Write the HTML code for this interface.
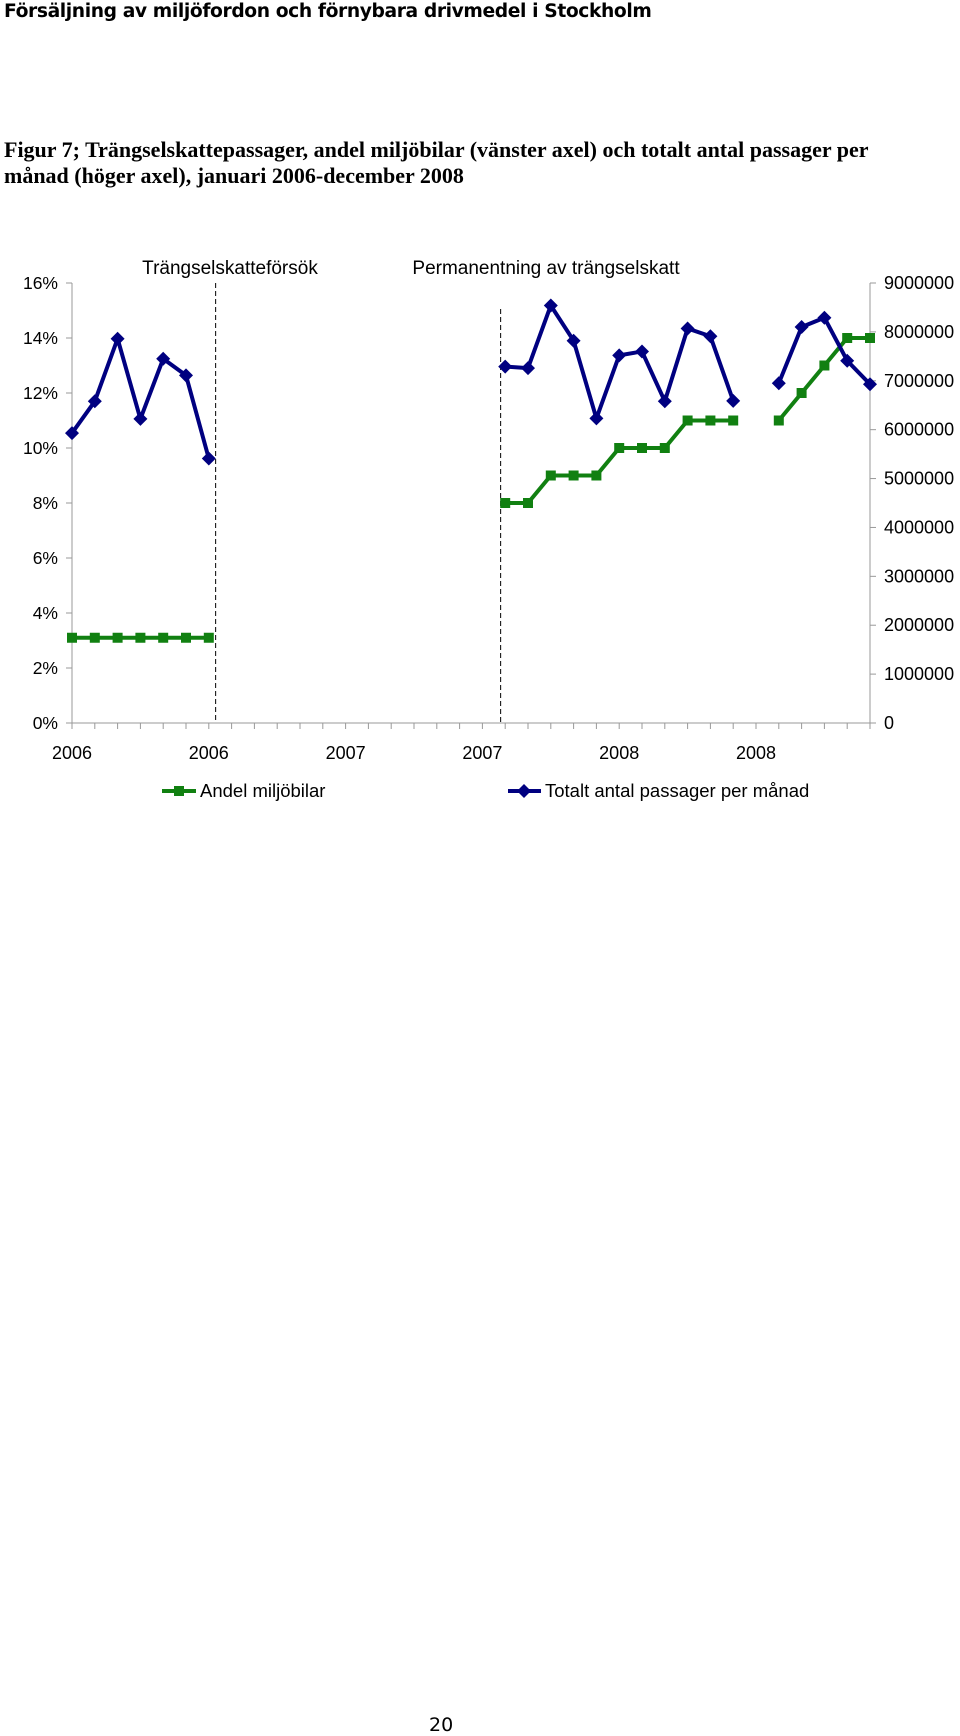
<!DOCTYPE html>
<html><head><meta charset="utf-8"><style>
body{margin:0;background:#fff;width:960px;height:1734px;position:relative;overflow:hidden}
.t{position:absolute;white-space:nowrap;color:#000}
</style></head><body>
<div class="t" style="left:4px;top:1px;font:bold 18.7px 'DejaVu Sans',sans-serif;letter-spacing:-0.4px">Försäljning av miljöfordon och förnybara drivmedel i Stockholm</div>
<div class="t" style="left:4px;top:137px;font:bold 22px/26px 'Liberation Serif',serif">Figur 7; Trängselskattepassager, andel miljöbilar (vänster axel) och totalt antal passager per<br>månad (höger axel), januari 2006-december 2008</div>
<svg id="chart" width="960" height="820" style="position:absolute;left:0;top:0" font-family="Liberation Sans, sans-serif"></svg>
<div class="t" style="left:429px;top:1714px;font:19px 'DejaVu Sans',sans-serif">20</div>
<script>
const months = Array.from({length:36},(_,i)=>i);
const xLabels = ['2006','2006','2007','2007','2008','2008'];
const leftTicks = ['0%','2%','4%','6%','8%','10%','12%','14%','16%'];
const rightTicks = ['0','1000000','2000000','3000000','4000000','5000000','6000000','7000000','8000000','9000000'];
// share of environmental cars (%), null = no data
const share = [3.1,3.1,3.1,3.1,3.1,3.1,3.1,null,null,null,null,null,null,null,null,null,null,null,null,8,8,9,9,9,10,10,10,11,11,11,null,11,12,13,14,14];
// total passages per month
const passages = [5930000,6580000,7860000,6220000,7450000,7110000,5410000,null,null,null,null,null,null,null,null,null,null,null,null,7290000,7260000,8540000,7820000,6230000,7520000,7600000,6580000,8070000,7910000,6590000,null,6950000,8100000,8290000,7410000,6930000];

const svg=document.getElementById('chart');const NS='http://www.w3.org/2000/svg';
const X0=72,X1=870,Y0=723,Y1=283;
const x=i=>X0+i*(X1-X0)/35;
const yL=v=>Y0-v/16*(Y0-Y1);
const yR=v=>Y0-v/9000000*(Y0-Y1);
function el(t,a){const e=document.createElementNS(NS,t);for(const k in a)e.setAttribute(k,a[k]);svg.appendChild(e);return e;}
let e;
e=el('line',{x1:X0,y1:Y1,x2:X0,y2:Y0,stroke:'#999'});


e=el('line',{x1:X1,y1:Y1,x2:X1,y2:Y0,stroke:'#999'});


e=el('line',{x1:X0,y1:Y0,x2:X1,y2:Y0,stroke:'#999'});


leftTicks.forEach((l,i)=>{const yy=yL(i*2);
 el('line',{x1:X0-6,y1:yy,x2:X0,y2:yy,stroke:'#999'});
 e=el('text',{x:58,y:yy+6,'text-anchor':'end','font-size':17.5});e.textContent=l;
 
 });
rightTicks.forEach((l,i)=>{const yy=yR(i*1000000);
 el('line',{x1:X1,y1:yy,x2:X1+6,y2:yy,stroke:'#999'});
 e=el('text',{x:884,y:yy+6,'font-size':18});e.textContent=l;
 
 });
for(let i=0;i<=36;i++){const xx=X0+i*(X1-X0)/35;if(xx>X1+1)break;el('line',{x1:xx,y1:Y0,x2:xx,y2:Y0+6,stroke:'#999'});}
xLabels.forEach((l,i)=>{e=el('text',{x:x(i*6),y:759,'text-anchor':'middle','font-size':18});e.textContent=l;
 
 });
e=el('line',{x1:x(6.3),y1:Y1,x2:x(6.3),y2:Y0,stroke:'#000','stroke-dasharray':'5,3'});


e=el('line',{x1:x(18.8),y1:309,x2:x(18.8),y2:Y0,stroke:'#000','stroke-dasharray':'5,3'});


e=el('text',{x:230,y:274,'text-anchor':'middle','font-size':19});e.textContent='Trängselskatteförsök';


e=el('text',{x:546,y:274,'text-anchor':'middle','font-size':19});e.textContent='Permanentning av trängselskatt';


function series(vals,yf,color,name,marker){
 let segs=[],cur=[];vals.forEach((v,i)=>{if(v==null){if(cur.length)segs.push(cur);cur=[];}else cur.push([x(i),yf(v)]);});if(cur.length)segs.push(cur);
 segs.forEach(s=>{const p=el('polyline',{points:s.map(q=>q.join(',')).join(' '),fill:'none',stroke:color,'stroke-width':4,'stroke-linejoin':'round'});
  
  });
 vals.forEach((v,i)=>{if(v==null)return;const cx=x(i),cy=yf(v);let m;
  if(marker==='sq')m=el('rect',{x:cx-5,y:cy-5,width:10,height:10,fill:color});
  else m=el('polygon',{points:`${cx},${cy-7} ${cx+7},${cy} ${cx},${cy+7} ${cx-7},${cy}`,fill:color});
  
  });
}
series(share,yL,'#118011','share','sq');
series(passages,yR,'#000080','passages','dia');
// legend
e=el('line',{x1:162,y1:791,x2:196,y2:791,stroke:'#118011','stroke-width':4});


e=el('rect',{x:174,y:786,width:10,height:10,fill:'#118011'});


e=el('text',{x:200,y:797,'font-size':18.5});e.textContent='Andel miljöbilar';


e=el('line',{x1:508,y1:791,x2:541,y2:791,stroke:'#000080','stroke-width':4});


e=el('polygon',{points:'524,784 531,791 524,798 517,791',fill:'#000080'});


e=el('text',{x:545,y:797,'font-size':18.5});e.textContent='Totalt antal passager per månad';


</script>
</body></html>
